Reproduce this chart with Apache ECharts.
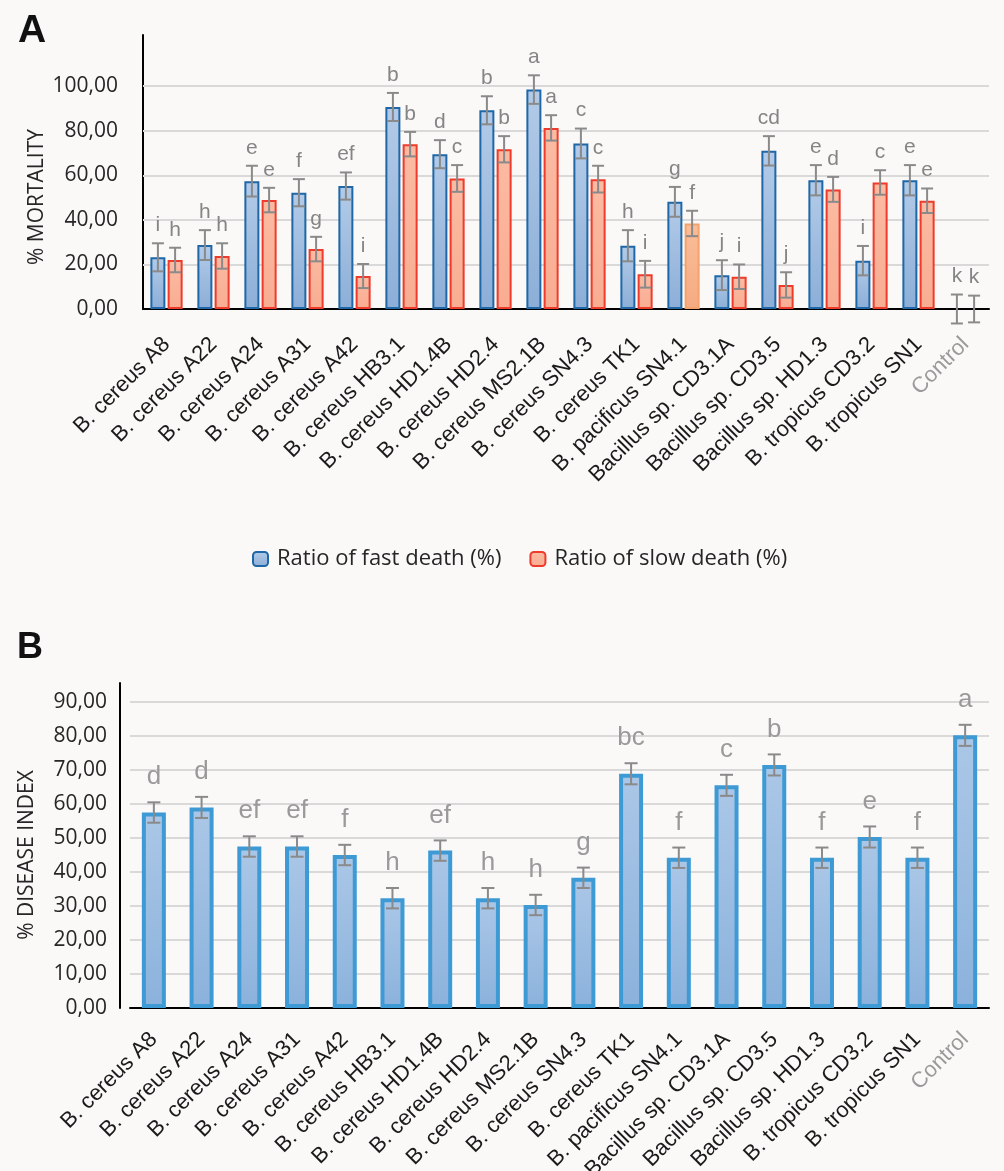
<!DOCTYPE html>
<html>
<head>
<meta charset="utf-8">
<script src="https://cdn.jsdelivr.net/npm/echarts@6/dist/echarts.min.js"></script>
<style>
  html, body { margin: 0; padding: 0; background: #faf9f8; }
  #chart { width: 1004px; height: 1171px; }
</style>
</head>
<body>
<div id="chart"></div>
<script>
const strains = [
  "B. cereus A8", "B. cereus A22", "B. cereus A24", "B. cereus A31", "B. cereus A42",
  "B. cereus HB3.1", "B. cereus HD1.4B", "B. cereus HD2.4", "B. cereus MS2.1B", "B. cereus SN4.3",
  "B. cereus TK1", "B. pacificus SN4.1", "Bacillus sp. CD3.1A", "Bacillus sp. CD3.5",
  "Bacillus sp. HD1.3", "B. tropicus CD3.2", "B. tropicus SN1", "Control"
];

// panel A
const fastDeath = [23.2, 28.7, 57.4, 52.2, 55.2, 90.7, 69.5, 89.2, 98.5, 74.3, 28.4, 48.1, 15.2, 71.0, 57.8, 21.7, 57.8, 0];
const fastErr = [6.3, 6.7, 6.9, 6.1, 6.1, 6.3, 6.3, 6.3, 6.4, 6.7, 7.0, 6.7, 6.7, 6.6, 6.8, 6.6, 6.8, 6.5];
const fastLetters = ["i", "h", "e", "f", "ef", "b", "d", "b", "a", "c", "h", "g", "j", "cd", "e", "i", "e", "k"];
const slowDeath = [22.0, 23.8, 48.9, 26.9, 14.8, 74.0, 58.6, 71.7, 81.3, 58.3, 15.6, 38.4, 14.5, 10.8, 53.7, 56.8, 48.6, 0];
const slowErr = [5.5, 5.7, 5.5, 5.5, 5.4, 5.5, 6.0, 5.9, 5.7, 6.0, 6.0, 5.7, 5.5, 5.7, 5.6, 5.5, 5.5, 6.0];
const slowLetters = ["h", "h", "e", "g", "i", "b", "c", "b", "a", "c", "i", "f", "i", "j", "d", "c", "e", "k"];
const ticksA = [20, 40, 60, 80, 100];

// panel B
const diseaseIndex = [57.5, 59.0, 47.5, 47.5, 45.0, 32.3, 46.3, 32.3, 30.3, 38.3, 68.9, 44.2, 65.5, 71.5, 44.2, 50.3, 44.2, 80.2];
const diseaseErr = [3.0, 3.1, 3.0, 3.0, 3.0, 3.0, 3.0, 3.0, 3.0, 3.0, 3.1, 3.0, 3.1, 3.1, 3.0, 3.1, 3.0, 3.1];
const diseaseLetters = ["d", "d", "ef", "ef", "f", "h", "ef", "h", "h", "g", "bc", "f", "c", "b", "f", "e", "f", "a"];
const ticksB = [10, 20, 30, 40, 50, 60, 70, 80, 90];

const comma = (v) => v.toFixed(2).replace(".", ",");
const grad = (a, b) => new echarts.graphic.LinearGradient(0, 0, 0, 1, [{ offset: 0, color: a }, { offset: 1, color: b }]);

function gridLines(values) {
  return {
    silent: true, symbol: ["none", "none"], z: 1, animation: false,
    label: { show: false },
    lineStyle: { color: "#d9d9d9", width: 2, type: "solid" },
    data: values.map((v) => ({ yAxis: v }))
  };
}

function errorBars(axisIdx, values, errs, letters, opts) {
  return {
    type: "custom",
    xAxisIndex: axisIdx,
    yAxisIndex: axisIdx,
    z: 5,
    data: values.map((v, i) => [i, v, errs[i]]),
    renderItem(params, api) {
      const i = api.value(0);
      const v = api.value(1);
      const e = api.value(2);
      const x = api.coord([i, v])[0] + opts.shift;
      const hi = api.coord([i, v + e])[1];
      const lo = api.coord([i, v - e])[1];
      const stroke = { stroke: "#8a8a8a", lineWidth: 2 };
      return {
        type: "group",
        children: [
          { type: "line", shape: { x1: x, y1: hi, x2: x, y2: lo }, style: stroke },
          { type: "line", shape: { x1: x - opts.cap, y1: hi, x2: x + opts.cap, y2: hi }, style: stroke },
          { type: "line", shape: { x1: x - opts.cap, y1: lo, x2: x + opts.cap, y2: lo }, style: stroke },
          {
            type: "text", x: x, y: hi - opts.gap,
            style: {
              text: letters[params.dataIndex], fill: opts.color,
              font: `${opts.size}px "Liberation Sans", Arial, sans-serif`,
              textAlign: "center", textVerticalAlign: "middle"
            }
          }
        ]
      };
    }
  };
}

function barData(values, extra) {
  return values.map((v, i) => {
    const item = { value: v };
    if (v === 0) item.itemStyle = { borderWidth: 0, opacity: 0 };
    if (extra && extra[i]) item.itemStyle = extra[i];
    return item;
  });
}

const xLabel = (margin) => ({
  interval: 0, rotate: 45, margin,
  fontFamily: '"Liberation Sans", Arial, sans-serif', fontSize: 22,
  color: (val) => (val === "Control" ? "#9a9a9a" : "#1a1a1a")
});

const chart = echarts.init(document.getElementById("chart"));
chart.setOption({
  backgroundColor: "#faf9f8",
  animation: false,
  textStyle: { fontFamily: '"Open Sans", sans-serif' },
  grid: [
    { left: 143, width: 846, top: 35, height: 274, containLabel: false, outerBoundsMode: "none" },
    { left: 130, width: 859, top: 683, height: 325, containLabel: false, outerBoundsMode: "none" }
  ],
  legend: {
    left: 247, top: 543, itemWidth: 15, itemHeight: 14, itemGap: 28,
    data: ["Ratio of fast death (%)", "Ratio of slow death (%)"],
    textStyle: { fontFamily: '"Open Sans", sans-serif', fontSize: 22, color: "#262626", padding: [0, 0, 0, 4] }
  },
  xAxis: [
    {
      type: "category", gridIndex: 0, data: strains,
      axisLine: { lineStyle: { color: "#000", width: 2 } },
      axisTick: { show: false },
      axisLabel: xLabel(32)
    },
    {
      type: "category", gridIndex: 1, data: strains,
      axisLine: { lineStyle: { color: "#000", width: 2 } },
      axisTick: { show: false },
      axisLabel: xLabel(28)
    }
  ],
  yAxis: [
    {
      type: "value", gridIndex: 0, min: 0, max: 123, interval: 20,
      axisLine: { show: true, lineStyle: { color: "#000", width: 2 } },
      axisTick: { show: false },
      splitLine: { show: false },
      axisLabel: {
        margin: 25, fontSize: 21, color: "#262626", fontFamily: '"Open Sans", sans-serif',
        formatter: (v) => (v > 100 ? "" : comma(v))
      }
    },
    {
      type: "value", gridIndex: 1, min: 0, max: 95.6, interval: 10, offset: 10,
      axisLine: { show: true, lineStyle: { color: "#000", width: 2 } },
      axisTick: { show: false },
      splitLine: { show: false },
      axisLabel: {
        margin: 13, fontSize: 21, color: "#262626", fontFamily: '"Open Sans", sans-serif',
        formatter: (v) => (v > 90 ? "" : comma(v))
      }
    }
  ],
  graphic: [
    { type: "text", left: 18, top: 12, style: { text: "A", font: 'bold 39px "Liberation Sans", Arial', fill: "#111" } },
    { type: "text", left: 17, top: 630, style: { text: "B", font: 'bold 36px "Liberation Sans", Arial', fill: "#111" } },
    {
      type: "text", x: 37, y: 197, rotation: Math.PI / 2,
      style: { text: "% MORTALITY", font: '21px "Open Sans", sans-serif', fill: "#262626", textAlign: "center", textVerticalAlign: "middle" }
    },
    {
      type: "text", x: 27, y: 855, rotation: Math.PI / 2,
      style: { text: "% DISEASE INDEX", font: '21px "Open Sans", sans-serif', fill: "#262626", textAlign: "center", textVerticalAlign: "middle" }
    }
  ],
  series: [
    {
      name: "Ratio of fast death (%)", type: "bar", xAxisIndex: 0, yAxisIndex: 0,
      barWidth: 15, barGap: "15%", z: 2,
      itemStyle: { color: grad("#b3cbe8", "#8caed7"), borderColor: "#1f67a6", borderWidth: 2 },
      data: barData(fastDeath),
      markLine: gridLines(ticksA)
    },
    {
      name: "Ratio of slow death (%)", type: "bar", xAxisIndex: 0, yAxisIndex: 0,
      barWidth: 15, barGap: "15%", z: 2,
      itemStyle: { color: grad("#fbbba3", "#f8ad92"), borderColor: "#ee3b2b", borderWidth: 2 },
      data: barData(slowDeath, { 11: { color: grad("#f9bd98", "#f6ab82"), borderColor: "#f4a26c", borderWidth: 2 } })
    },
    errorBars(0, fastDeath, fastErr, fastLetters, { shift: -8.6, cap: 6, gap: 18, size: 21, color: "#858585" }),
    errorBars(0, slowDeath, slowErr, slowLetters, { shift: 8.6, cap: 6, gap: 18, size: 21, color: "#858585" }),
    {
      name: "Disease index", type: "bar", xAxisIndex: 1, yAxisIndex: 1,
      barWidth: 24, z: 2,
      itemStyle: { color: grad("#abc7e7", "#8bb2dc"), borderColor: "#3d9ad5", borderWidth: 4 },
      data: barData(diseaseIndex),
      markLine: gridLines(ticksB)
    },
    errorBars(1, diseaseIndex, diseaseErr, diseaseLetters, { shift: 0, cap: 6.5, gap: 25, size: 26, color: "#9a9a9a" })
  ]
});
</script>
</body>
</html>
